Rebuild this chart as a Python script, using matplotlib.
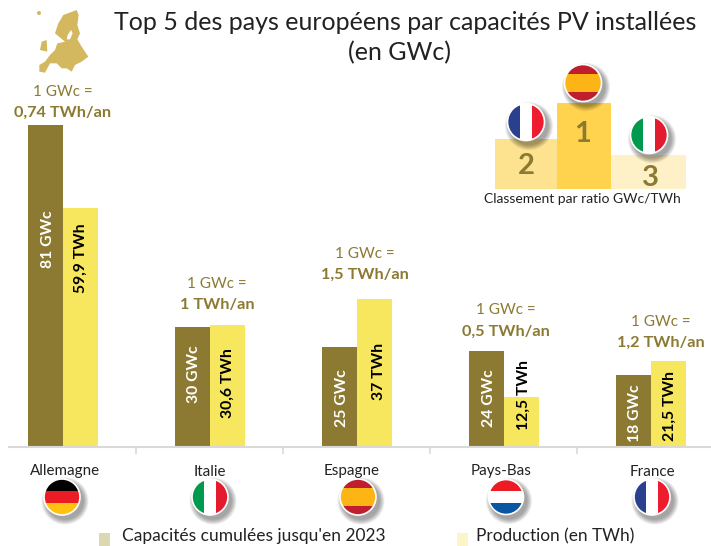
import numpy as np
import matplotlib
matplotlib.use("Agg")
import matplotlib.pyplot as plt
from matplotlib.patches import Circle, Rectangle, Polygon

plt.rcParams['font.family'] = ['Lato', 'DejaVu Sans']

countries = ["Allemagne", "Italie", "Espagne", "Pays-Bas", "France"]
capacity = [81, 30, 25, 24, 18]
production = [59.9, 30.6, 37, 12.5, 21.5]
cap_labels = ["81 GWc", "30 GWc", "25 GWc", "24 GWc", "18 GWc"]
prod_labels = ["59,9 TWh", "30,6 TWh", "37 TWh", "12,5 TWh", "21,5 TWh"]
ratios = ["0,74 TWh/an", "1 TWh/an", "1,5 TWh/an", "0,5 TWh/an", "1,2 TWh/an"]
title_lines = ["Top 5 des pays européens par capacités PV installées", "(en GWc)"]
legend_labels = ["Capacités cumulées jusqu'en 2023", "Production (en TWh)"]
podium_title = "Classement par ratio GWc/TWh"

OLIVE = "#8C7A32"
YELLOW = "#F6E75E"
GOLD = "#D3B85F"
TXT = "#222222"
W, H = 711, 546
BASE = 446.5

fig = plt.figure(figsize=(W / 100, H / 100), dpi=100)
ax = fig.add_axes([9 / W, (H - BASE) / H, 702 / W, BASE / H])
ax.patch.set_alpha(0)
x = np.arange(len(countries))
bw = 0.238
ax.bar(x - bw / 2, capacity, bw, color=OLIVE, lw=0)
ax.bar(x + bw / 2, production, bw, color=YELLOW, lw=0)
ax.set_xlim(-0.365, 4.41)
ax.set_ylim(0, BASE / 3.975)
for s in ("top", "left", "right"):
    ax.spines[s].set_visible(False)
ax.spines["bottom"].set_color("#D9D9D9")
ax.spines["bottom"].set_linewidth(1.5)
ax.set_yticks([])
ax.set_xticks(x[:-1] + 0.5)
ax.set_xticklabels([])
ax.tick_params(axis="x", length=5, width=1.2, color="#D9D9D9")

# overlay in image pixel coordinates
ov = fig.add_axes([0, 0, 1, 1], zorder=5)
ov.set_xlim(0, W)
ov.set_ylim(H, 0)
ov.axis("off")

ov.text(405, 22.5, title_lines[0], ha="center", va="center", fontsize=18, color=TXT)
ov.text(399, 52.5, title_lines[1], ha="center", va="center", fontsize=18, color=TXT)

cap_pos = [(48, 239), (194, 374.5), (342, 398), (489, 398), (635, 413)]
prod_pos = [(81, 258), (228, 383), (379, 371), (524, 395), (670, 406)]
for (px, py), t in zip(cap_pos, cap_labels):
    ov.text(px, py, t, rotation=90, ha="center", va="center", color="white", fontsize=11.3, fontweight="bold")
for (px, py), t in zip(prod_pos, prod_labels):
    ov.text(px, py, t, rotation=90, ha="center", va="center", color="black", fontsize=11.3, fontweight="bold")

ratio_pos = [(63, 91.5), (217, 283.5), (365, 253.5), (506, 310.5), (661, 321.5)]
for (px, py), r in zip(ratio_pos, ratios):
    ov.text(px, py, "1 GWc =", ha="center", va="center", color=OLIVE, fontsize=11)
    ov.text(px, py + 21, r, ha="center", va="center", color=OLIVE, fontsize=11.7, fontweight="bold")

centers_lbl = [65, 210, 352, 501, 652]
for cx, c in zip(centers_lbl, countries):
    ov.text(cx, 471.5, c, ha="center", va="center", fontsize=10.9, color=TXT)


def flag(cx, cy, r, stripes, vertical=False):
    for k in range(8, 0, -1):
        ov.add_patch(Circle((cx + 3, cy + 4), r + k * 0.7, color="black", alpha=0.05, lw=0, zorder=2))
    clip = Circle((cx, cy), r, transform=ov.transData)
    n = sum(s[1] for s in stripes)
    pos = 0
    for col, w in stripes:
        frac = w / n * 2 * r
        if vertical:
            p = Rectangle((cx - r + pos, cy - r), frac, 2 * r, color=col, lw=0, zorder=3)
        else:
            p = Rectangle((cx - r, cy - r + pos), 2 * r, frac, color=col, lw=0, zorder=3)
        ov.add_patch(p)
        p.set_clip_path(clip)
        pos += frac
    ov.add_patch(Circle((cx, cy), r, fill=False, ec="white", lw=1.2, zorder=4))


DE = [("#000000", 1), ("#ED1C24", 1), ("#FFC20E", 1)]
IT = [("#009A4E", 1), ("#FFFFFF", 1), ("#E31B2F", 1)]
ES = [("#BE1E2D", 1), ("#FDB515", 2), ("#BE1E2D", 1)]
NL = [("#ED1C24", 1), ("#FFFFFF", 1), ("#0B55A5", 1)]
FR = [("#2B3F8F", 1), ("#FFFFFF", 1), ("#ED1C2E", 1)]

flag(62, 497, 18, DE)
flag(210, 497, 18, IT, True)
flag(358, 497, 18, ES)
flag(506, 497, 17.5, NL)
flag(652, 497, 18, FR, True)

# podium
ov.add_patch(Rectangle((495, 139), 62, 49.5, color="#FDE28F", lw=0, zorder=1))
ov.add_patch(Rectangle((557, 103), 54, 85.5, color="#FFD34E", lw=0, zorder=1))
ov.add_patch(Rectangle((611, 155), 75, 33.5, color="#FEF1C7", lw=0, zorder=1))
ov.text(526, 166, "2", ha="center", va="center", color=OLIVE, fontsize=21, fontweight="bold")
ov.text(583, 134, "1", ha="center", va="center", color=OLIVE, fontsize=21, fontweight="bold")
ov.text(650, 178, "3", ha="center", va="center", color=OLIVE, fontsize=21, fontweight="bold")
ov.text(582, 199, podium_title, ha="center", va="center", fontsize=10, color=TXT)
flag(526, 122, 18.5, FR, True)
flag(583, 83, 18.5, ES)
flag(649, 135, 18.5, IT, True)

# Europe silhouette (outline, zoomed coordinates / 3)
eu = np.array([(190, 45), (230, 30), (236, 45), (232, 75), (240, 100), (232, 118), (245, 140),
               (265, 170), (245, 185), (225, 195), (215, 215), (200, 205), (185, 205), (170, 190),
               (150, 190), (135, 218), (118, 215), (118, 195), (135, 185), (150, 165), (165, 150),
               (172, 130), (195, 125), (165, 100), (175, 70)]) / 3
uk = np.array([(125, 125), (140, 120), (142, 155), (120, 150)]) / 3
baltic = np.array([(203, 105), (213, 90), (218, 100), (210, 118), (200, 118)]) / 3
ov.add_patch(Polygon(eu, closed=True, color=GOLD, lw=0, zorder=2))
ov.add_patch(Polygon(uk, closed=True, color=GOLD, lw=0, zorder=2))
ov.add_patch(Polygon(baltic, closed=True, color="white", lw=0, zorder=2))
ov.add_patch(Circle((39, 13), 2, color=GOLD, lw=0, zorder=2))

# legend
ov.text(122.5, 536.5, legend_labels[0], ha="left", va="center", fontsize=12.5, color=TXT)
ov.text(476.5, 536.5, legend_labels[1], ha="left", va="center", fontsize=12.4, color=TXT)
ov.add_patch(Rectangle((99, 533), 11, 13, color="#DCD8B2", lw=0))
ov.add_patch(Rectangle((457, 533), 11, 13, color="#FBF6C9", lw=0))

fig.savefig("out.png", dpi=100)
